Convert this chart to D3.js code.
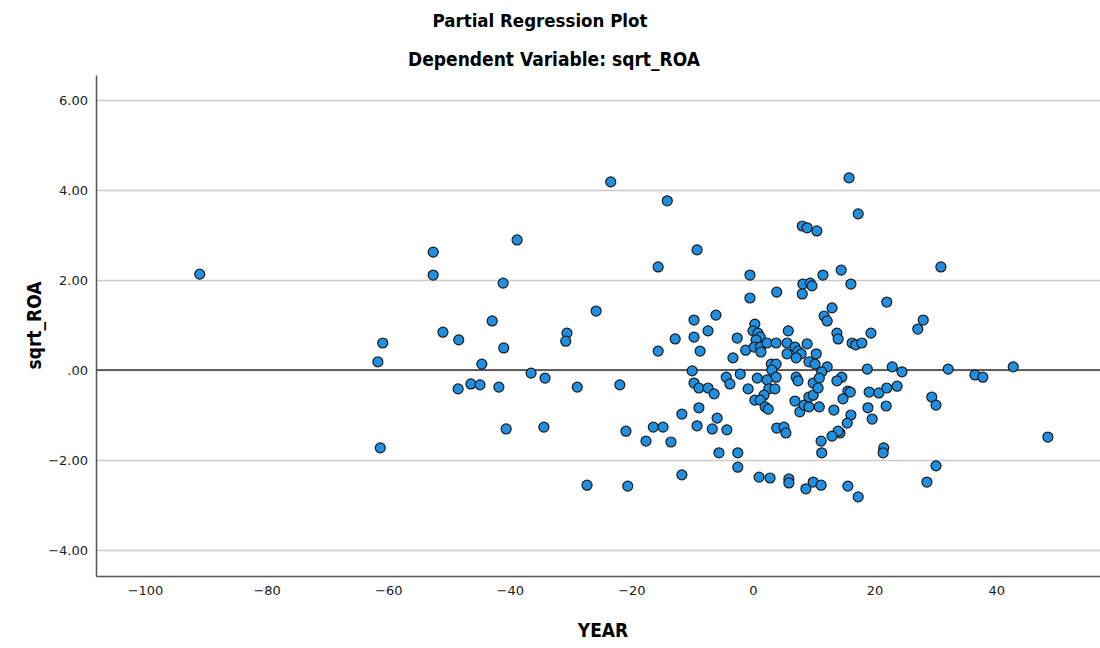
<!DOCTYPE html>
<html>
<head>
<meta charset="utf-8">
<script src="https://cdn.jsdelivr.net/npm/d3@7"></script>
<style>
  body { margin: 0; background: #fff; }
  text { font-family: 'DejaVu Sans', Verdana, sans-serif; }
  .title { font-family: 'DejaVu Sans Condensed', 'DejaVu Sans', sans-serif; font-weight: bold; }
</style>
</head>
<body>
<div id="chart"></div>
<script>
const WIDTH = 1100
const HEIGHT = 648
const MARGIN = { top: 75, right: 0, bottom: 72, left: 96 }

const POINT_FILL = '#1e8fe1'
const POINT_STROKE = '#1b1b1b'
const GRIDLINE_COLOR = '#cccccc'

// residuals of YEAR (x) against residuals of sqrt_ROA (y)
const yearResid = [
  -91.0, -52.6, -52.6, -51.0, -60.9, -61.7, -61.3, -23.4, -14.1, -38.8,
  -9.2, -15.6, -41.1, -25.8, -42.9, -48.4, -41.0, -30.6, -30.8, -44.6,
  -36.5, -34.2, -48.5, -46.4, -44.9, -41.8, -28.9, -21.9, -40.6, -34.4,
  -20.9, -27.3, -20.6, -15.6, -12.8, -9.7, -9.7, -6.1, -7.4, -8.7,
  -10.0, -9.7, -8.9, -7.4, -6.4, -4.4, -3.8, -8.9, -11.7, -5.9,
  -16.4, -14.8, -9.2, -6.7, -4.3, -17.6, -13.5, -5.6, -11.7, -0.5,
  -0.5, 3.9, 8.1, 8.9, 10.5, 8.2, 9.4, 9.7, 8.1, -2.6,
  -3.3, -1.2, 0.3, 0.0, 0.8, 1.2, 0.5, 0.2, 1.2, 1.3,
  2.3, 3.8, 5.8, 5.6, 5.6, 6.9, 7.4, 7.9, 7.1, 8.9,
  9.2, 10.4, 10.2, 3.0, 3.8, 3.1, 3.8, -2.1, -0.8, 0.7,
  2.3, 2.6, 3.6, 1.8, 0.3, 1.2, 2.0, 2.5, 7.1, 7.4,
  6.9, 7.7, 8.4, 9.2, 9.2, 9.9, 9.9, 3.9, 5.1, 5.4,
  -2.5, -2.5, 1.0, 2.8, 5.9, 5.9, 8.7, 9.9, 15.8, 17.3,
  11.5, 14.5, 16.1, 22.0, 13.0, 11.7, 12.2, 13.8, 14.0, 19.4,
  16.3, 16.9, 17.9, 12.2, 11.3, 14.6, 13.8, 18.8, 22.9, 24.5,
  10.9, 10.7, 15.6, 16.0, 14.8, 19.1, 20.7, 22.0, 23.7, 10.9,
  13.3, 18.9, 21.9, 19.6, 16.1, 15.5, 14.3, 14.0, 13.0, 11.2,
  11.3, 21.5, 21.4, 11.2, 15.6, 17.3, 30.9, 28.0, 27.1, 32.1,
  36.5, 37.8, 42.8, 29.4, 30.1, 48.5, 30.1, 28.6
]
const roaResid = [
  2.13, 2.62, 2.11, 0.84, 0.60, 0.18, -1.73, 4.18, 3.76, 2.89,
  2.67, 2.29, 1.93, 1.31, 1.09, 0.67, 0.49, 0.82, 0.64, 0.13,
  -0.07, -0.18, -0.42, -0.31, -0.33, -0.38, -0.38, -0.33, -1.31, -1.27,
  -1.36, -2.56, -2.58, 0.42, 0.69, 1.11, 0.73, 1.22, 0.87, 0.42,
  -0.02, -0.29, -0.40, -0.40, -0.53, -0.16, -0.31, -0.84, -0.98, -1.07,
  -1.27, -1.27, -1.24, -1.31, -1.33, -1.58, -1.60, -1.84, -2.33, 2.11,
  1.60, 1.73, 3.20, 3.16, 3.09, 1.91, 1.93, 1.87, 1.69, 0.71,
  0.27, 0.44, 1.02, 0.87, 0.82, 0.73, 0.67, 0.51, 0.51, 0.40,
  0.60, 0.60, 0.87, 0.60, 0.36, 0.51, 0.42, 0.36, 0.27, 0.58,
  0.18, 0.36, 0.13, 0.13, 0.13, 0.00, -0.16, -0.09, -0.42, -0.18,
  -0.22, -0.42, -0.42, -0.56, -0.67, -0.67, -0.82, -0.87, -0.16, -0.24,
  -0.69, -0.93, -0.78, -0.82, -0.60, -0.56, -0.29, -1.29, -1.27, -1.40,
  -1.84, -2.16, -2.38, -2.40, -2.42, -2.51, -2.64, -2.49, 4.27, 3.47,
  2.11, 2.22, 1.91, 1.51, 1.38, 1.20, 1.09, 0.82, 0.69, 0.82,
  0.60, 0.56, 0.60, 0.07, -0.04, -0.16, -0.24, 0.02, 0.07, -0.04,
  -0.18, -0.40, -0.47, -0.49, -0.64, -0.49, -0.51, -0.40, -0.36, -0.82,
  -0.89, -0.84, -0.80, -1.09, -1.00, -1.18, -1.40, -1.36, -1.47, -1.58,
  -1.84, -1.73, -1.84, -2.56, -2.58, -2.82, 2.29, 1.11, 0.91, 0.02,
  -0.11, -0.16, 0.07, -0.60, -0.78, -1.49, -2.13, -2.49
]

const xTicks = [-100, -80, -60, -40, -20, 0, 20, 40]
const yTicks = [-4, -2, 0, 2, 4, 6]

const points = yearResid.map((x, i) => ({ x: x, y: roaResid[i] }))

var svg = d3.select('#chart')
  .append('svg')
  .attr('width', WIDTH)
  .attr('height', HEIGHT)

var xScale = d3.scaleLinear()
  .domain([-108.06, 57.07])
  .range([MARGIN.left, WIDTH - MARGIN.right])

var yScale = d3.scaleLinear()
  .domain([-4.578, 6.556])
  .range([HEIGHT - MARGIN.bottom, MARGIN.top])

// Titles
svg.append('text')
  .attr('class', 'title')
  .attr('x', 540)
  .attr('y', 27)
  .attr('text-anchor', 'middle')
  .style('font-size', '18.5px')
  .text('Partial Regression Plot')

svg.append('text')
  .attr('class', 'title')
  .attr('x', 554)
  .attr('y', 66)
  .attr('text-anchor', 'middle')
  .style('font-size', '19px')
  .text('Dependent Variable: sqrt_ROA')

// Y grid
svg.append('g')
  .attr('class', 'y-grid')
  .attr('transform', 'translate(' + MARGIN.left + ',0)')
  .call(d3.axisLeft(yScale).tickValues(yTicks).tickSize(-(WIDTH - MARGIN.left - MARGIN.right)).tickFormat(''))
  .call(g => g.select('.domain').remove())
  .call(g => g.selectAll('.tick line').attr('stroke', GRIDLINE_COLOR).attr('stroke-width', 1.5))

// zero reference line
svg.append('line')
  .attr('x1', MARGIN.left)
  .attr('x2', WIDTH - MARGIN.right)
  .attr('y1', yScale(0))
  .attr('y2', yScale(0))
  .attr('stroke', '#333')
  .attr('stroke-width', 1.5)

// Y axis
svg.append('g')
  .attr('class', 'y-axis')
  .attr('transform', 'translate(' + MARGIN.left + ',0)')
  .call(d3.axisLeft(yScale).tickValues(yTicks).tickSize(0).tickPadding(8)
    .tickFormat(d => d === 0 ? '.00' : d3.format('.2f')(d)))
  .call(g => g.select('.domain').attr('stroke', '#555').attr('stroke-width', 1.5))
  .call(g => g.selectAll('text').style('font-size', '13px').attr('fill', '#222'))

// X axis
svg.append('g')
  .attr('class', 'x-axis')
  .attr('transform', 'translate(0,' + (HEIGHT - MARGIN.bottom) + ')')
  .call(d3.axisBottom(xScale).tickValues(xTicks).tickSize(0).tickPadding(10))
  .call(g => g.select('.domain').attr('stroke', '#555').attr('stroke-width', 1.5))
  .call(g => g.selectAll('text').style('font-size', '13px').attr('fill', '#222'))

// Axis titles
svg.append('text')
  .attr('class', 'title')
  .attr('x', (MARGIN.left + WIDTH - MARGIN.right) / 2 + 5)
  .attr('y', 637)
  .attr('text-anchor', 'middle')
  .style('font-size', '19px')
  .text('YEAR')

svg.append('text')
  .attr('class', 'title')
  .attr('transform', 'translate(41,' + (HEIGHT - MARGIN.bottom + MARGIN.top) / 2 + ') rotate(-90)')
  .attr('text-anchor', 'middle')
  .style('font-size', '19px')
  .text('sqrt_ROA')

// Points
svg.append('g')
  .attr('class', 'points')
  .selectAll('circle')
  .data(points)
  .enter()
  .append('circle')
  .attr('cx', d => xScale(d.x))
  .attr('cy', d => yScale(d.y))
  .attr('r', 5)
  .attr('fill', POINT_FILL)
  .attr('stroke', POINT_STROKE)
  .attr('stroke-width', 1.2)
</script>
</body>
</html>
